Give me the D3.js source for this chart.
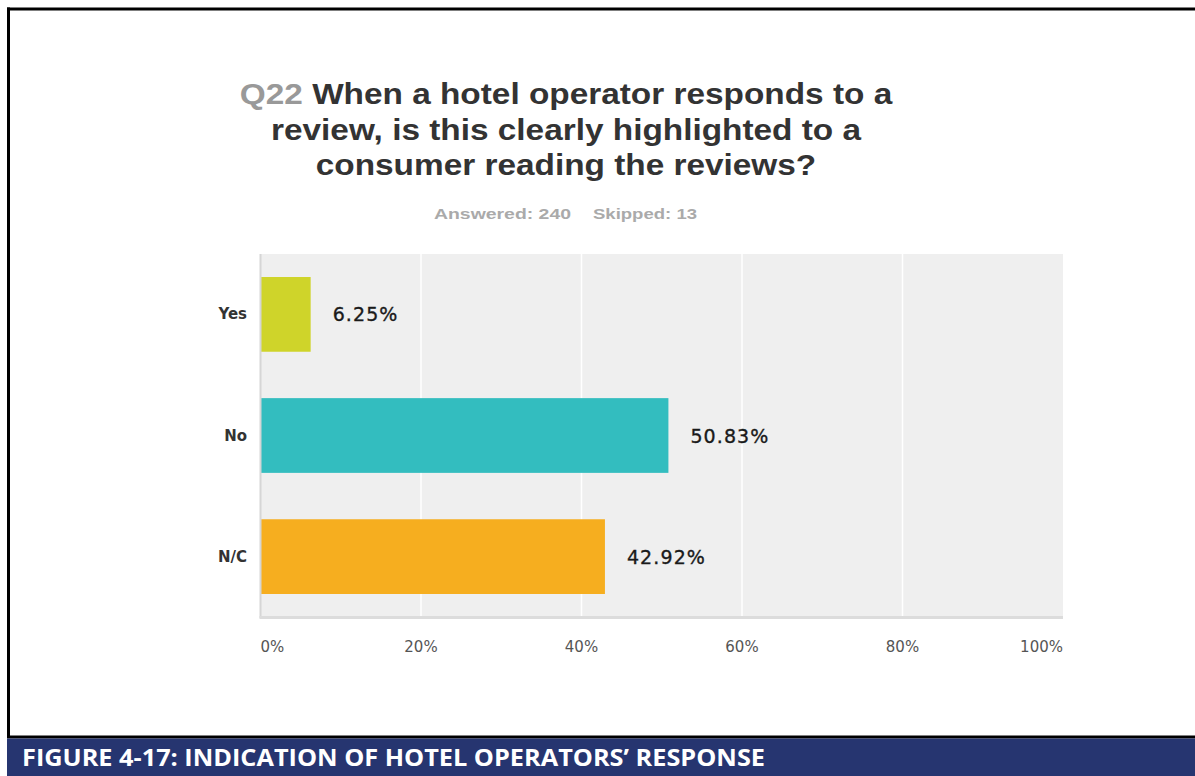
<!DOCTYPE html>
<html>
<head>
<meta charset="utf-8">
<script src="https://cdn.jsdelivr.net/npm/d3@7"></script>
<style>
  html, body { margin: 0; padding: 0; background: #fff; }
  svg { display: block; }
</style>
</head>
<body>
<svg id="chart" width="1195" height="776"></svg>
<script>
const categories = ["Yes", "No", "N/C"];
const values = [6.25, 50.83, 42.92];
const barColors = ["#cfd42a", "#33bdbf", "#f6ae1f"];
const ticks = [0, 20, 40, 60, 80, 100];
const tickLabels = ["0%", "20%", "40%", "60%", "80%", "100%"];
const titleLines = ["When a hotel operator responds to a", "review, is this clearly highlighted to a", "consumer reading the reviews?"];
const questionNo = "Q22";
const subtitle = ["Answered: 240", "Skipped: 13"];
const caption = "FIGURE 4-17:  INDICATION OF HOTEL OPERATORS\u2019 RESPONSE";

const svg = d3.select("#chart");
const W = 1195, H = 776;

// frame
svg.append("rect").attr("x", 0).attr("y", 0).attr("width", W).attr("height", H).attr("fill", "#fff");
svg.append("line").attr("x1", 7).attr("x2", W).attr("y1", 9).attr("y2", 9).attr("stroke", "#000").attr("stroke-width", 3);
svg.append("line").attr("x1", 8.5).attr("x2", 8.5).attr("y1", 7.5).attr("y2", 738).attr("stroke", "#000").attr("stroke-width", 3);
svg.append("line").attr("x1", 7).attr("x2", W).attr("y1", 737).attr("y2", 737).attr("stroke", "#000").attr("stroke-width", 3);
svg.append("rect").attr("x", 7).attr("y", 738.5).attr("width", W - 7).attr("height", H - 738.5).attr("fill", "#263570");
svg.append("text").attr("x", 22).attr("y", 766)
  .attr("fill", "#fff").attr("font-family", "'Liberation Sans Narrow', 'Open Sans', sans-serif")
  .attr("font-weight", "bold").attr("font-size", 23)
  .attr("textLength", 743).attr("lengthAdjust", "spacingAndGlyphs")
  .text(caption);

// title
const cx = 566;
const title = svg.append("g").attr("transform", `translate(${cx},0) scale(1.112,1)`)
  .attr("font-family", "'Liberation Sans', Arial, sans-serif").attr("font-weight", "bold")
  .attr("font-size", 30).attr("text-anchor", "middle");
titleLines.forEach((ln, i) => {
  const t = title.append("text").attr("x", 0).attr("y", 104.5 + i * 35.5).attr("fill", "#333");
  if (i === 0) t.append("tspan").attr("fill", "#999").text(questionNo + " ");
  t.append("tspan").text(ln);
});
const sub = svg.append("g").attr("font-family", "'Liberation Sans', Arial, sans-serif").attr("font-weight", "bold")
  .attr("font-size", 15).attr("fill", "#aaa");
sub.append("text").attr("x", 434).attr("y", 219).attr("textLength", 137).attr("lengthAdjust", "spacingAndGlyphs").text(subtitle[0]);
sub.append("text").attr("x", 593).attr("y", 219).attr("textLength", 104).attr("lengthAdjust", "spacingAndGlyphs").text(subtitle[1]);

// plot
const m = { left: 260.5, right: 1063, top: 254, bottom: 617 };
const x = d3.scaleLinear().domain([0, 100]).range([m.left, m.right]);
const y = d3.scaleBand().domain(categories).range([m.top, m.bottom]).paddingInner(0.383).paddingOuter(0.19);

svg.append("rect").attr("x", m.left).attr("y", m.top).attr("width", m.right - m.left).attr("height", m.bottom - m.top).attr("fill", "#efefef");

svg.append("g").selectAll("line").data(ticks.slice(1, -1)).join("line")
  .attr("x1", d => x(d)).attr("x2", d => x(d)).attr("y1", m.top).attr("y2", m.bottom)
  .attr("stroke", "#fff").attr("stroke-width", 1.5);

svg.append("g").selectAll("rect").data(values).join("rect")
  .attr("x", x(0)).attr("y", (d, i) => y(categories[i]))
  .attr("width", d => x(d) - x(0)).attr("height", y.bandwidth())
  .attr("fill", (d, i) => barColors[i]);

// axis lines
svg.append("line").attr("x1", m.left).attr("x2", m.left).attr("y1", m.top).attr("y2", m.bottom + 1)
  .attr("stroke", "#d6d6d6").attr("stroke-width", 2);
svg.append("line").attr("x1", m.left - 1).attr("x2", m.right).attr("y1", m.bottom + 0.5).attr("y2", m.bottom + 0.5)
  .attr("stroke", "#dcdcdc").attr("stroke-width", 3);

// value labels
svg.append("g").selectAll("text").data(values).join("text")
  .attr("x", d => x(d) + 22).attr("y", (d, i) => y(categories[i]) + y.bandwidth() / 2 + 7)
  .attr("font-family", "'DejaVu Sans', Verdana, sans-serif").attr("font-size", 19)
  .attr("fill", "#1a1a1a").attr("letter-spacing", 1.1)
  .attr("stroke", "#1a1a1a").attr("stroke-width", 0.35)
  .text(d => d.toFixed(2) + "%");

// category labels
svg.append("g").selectAll("text").data(categories).join("text")
  .attr("x", 247).attr("y", d => y(d) + y.bandwidth() / 2 + 5)
  .attr("text-anchor", "end")
  .attr("font-family", "'DejaVu Sans', Verdana, sans-serif").attr("font-weight", "bold").attr("font-size", 15)
  .attr("fill", "#333")
  .text(d => d);

// x tick labels
svg.append("g").selectAll("text").data(ticks).join("text")
  .attr("x", d => x(d)).attr("y", 652)
  .attr("text-anchor", (d, i) => i === 0 ? "start" : (i === ticks.length - 1 ? "end" : "middle"))
  .attr("font-family", "'DejaVu Sans', Verdana, sans-serif").attr("font-size", 15)
  .attr("fill", "#555")
  .text((d, i) => tickLabels[i]);
</script>
</body>
</html>
